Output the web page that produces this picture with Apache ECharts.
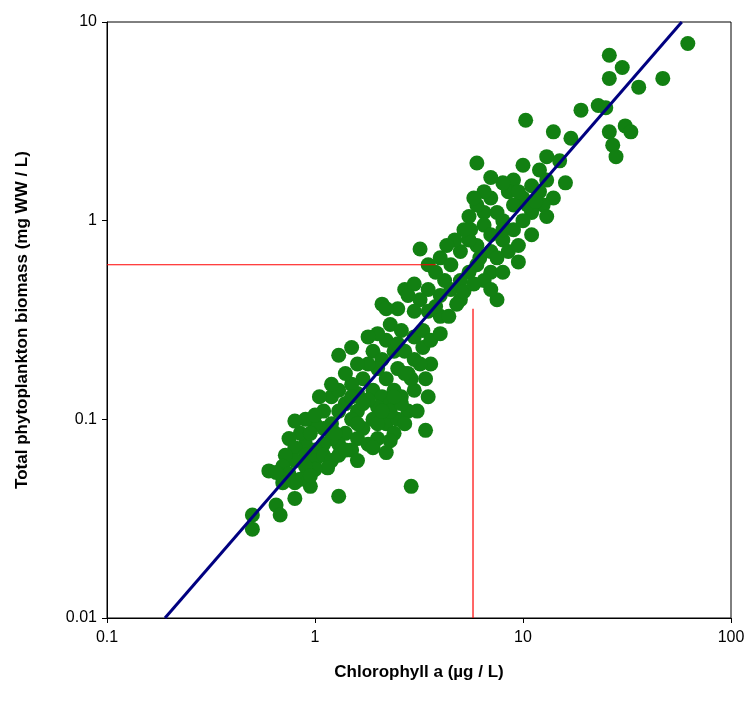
<!DOCTYPE html>
<html>
<head>
<meta charset="UTF-8">
<script src="https://cdn.jsdelivr.net/npm/echarts@6/dist/echarts.min.js"></script>
<style>html,body{margin:0;padding:0;background:#fff}</style>
</head>
<body>
<div id="main" style="width:751px;height:702px;"></div>
<script>
var xTicks = [0.1, 1, 10, 100];
var yTicks = [0.01, 0.1, 1, 10];
var fitLine = [[0.19, 0.01], [58, 10]];
var refH = [[0.1, 0.6], [3.8, 0.6]];
var refV = [[5.75, 0.01], [5.75, 0.36]];
var points = [
 [62,7.8],[26,6.8],[30,5.9],[26,5.2],[47,5.2],[36,4.7],[19,3.6],[23,3.8],[25,3.7],[10.3,3.2],
 [14,2.8],[17,2.6],[26,2.8],[31,3.0],[33,2.8],[27,2.4],[28,2.1],[15,2.0],[13,2.1],[16,1.55],
 [12,1.8],[10,1.9],[6,1.95],[11,0.85],[9.5,0.62],[3.2,0.72],[7.5,0.4],[2.9,0.046],[1.3,0.041],
 [0.5,0.033],[0.5,0.028],[0.6,0.055],[0.65,0.037],[0.68,0.033],[0.8,0.04],[0.95,0.046],
 [1.3,0.21],[1.5,0.23],[2.1,0.38],[2.7,0.45],[3.5,0.6],[4,0.65],[5.6,0.9],
 [13,1.6],[12,1.4],[14,1.3],[11,1.5],[12.5,1.2],[11,1.1],[13,1.05],[10,1.3],[9,1.6],[8.5,1.4],
 [9,1.2],[8,1.0],[7,1.3],[7.5,1.1],[6.5,1.1],[6,1.2],[5.5,1.05],[6.5,0.95],[7,0.85],[8,0.8],
 [9,0.9],[10,1.0],[8.5,0.7],[7,0.7],[6,0.75],[5.5,0.8],[5,0.7],[6,0.6],[7,0.55],[6.5,0.5],
 [8,0.55],[7,0.45],[5.5,0.55],[5,0.5],[4.5,0.45],[5,0.4],[4.5,0.6],[4.2,0.5],[4,0.42],[3.8,0.55],
 [3.5,0.45],[3.2,0.4],[3,0.35],[3.5,0.35],[4,0.33],[3,0.48],[2.8,0.42],[2.5,0.36],[2.3,0.3],
 [2.6,0.28],[3,0.26],[3.3,0.28],[2.2,0.25],[2,0.27],[1.9,0.22],[2.1,0.2],[2.4,0.22],[2.7,0.22],
 [3,0.2],[3.3,0.23],[3.6,0.19],[2.8,0.17],[2.5,0.18],[2.2,0.16],[2,0.18],[1.8,0.19],[1.7,0.16],
 [1.9,0.14],[2.1,0.13],[2.4,0.14],[2.6,0.13],[3,0.14],[3.4,0.16],[2.8,0.11],[2.3,0.12],[2,0.115],
 [1.8,0.125],[1.6,0.135],[1.5,0.15],[1.4,0.12],[1.6,0.11],[1.9,0.1],[2.2,0.095],[2.5,0.1],[2.7,0.095],
 [2.4,0.085],[2,0.08],[1.7,0.09],[1.5,0.1],[1.3,0.11],[1.2,0.095],[1.4,0.085],[1.6,0.08],[1.8,0.075],
 [1.5,0.07],[1.3,0.075],[1.2,0.08],[1.1,0.09],[1.0,0.095],[0.9,0.1],[1.1,0.075],[1.0,0.07],
 [0.9,0.075],[0.85,0.085],[0.8,0.098],[0.75,0.08],[0.8,0.072],[0.9,0.066],[1.0,0.062],[1.1,0.066],
 [1.2,0.062],[1.3,0.066],[1.4,0.07],[1.15,0.057],[1.0,0.056],[0.9,0.058],[0.8,0.062],[0.72,0.066],
 [0.7,0.058],[0.75,0.053],[0.85,0.05],[0.95,0.052],[0.8,0.048],[0.7,0.048],[0.65,0.054],[1.2,0.13],
 [1.3,0.14],[1.5,0.13],[1.7,0.12],[1.1,0.11],[1.0,0.105],[1.25,0.085],[1.6,0.095],[2,0.095],[2.3,0.11],
 [2.6,0.12],[2.9,0.16],[3.2,0.19],[3.6,0.25],[4,0.27],[4.4,0.33],[3.8,0.37],[4.8,0.38],[5.2,0.44],
 [5.8,0.48],[6.2,0.65],[7.5,0.65],[8,0.9],[9.5,0.75],[10.5,1.2],[9.5,1.4],[11.5,1.25],[8,1.55],
 [7,1.65],[6.5,1.4],[5.8,1.3],[5.2,0.9],[4.7,0.8],[4.3,0.75],[2.2,0.36],[2.5,0.24],[1.8,0.26],
 [1.6,0.19],[1.4,0.17],[1.2,0.15],[2.1,0.11],[2.4,0.13],[2.7,0.17],[3.1,0.11],[2.3,0.078],[1.9,0.072],
 [3.5,0.13],[1.05,0.13],[0.95,0.085],[1.6,0.062],[2.2,0.068],[3.4,0.088]
];

var chart = echarts.init(document.getElementById('main'));
var lbl = {color:'#000', fontSize:16, fontFamily:'Liberation Sans, Arial'};
chart.setOption({
  animation:false,
  grid:{left:107, right:20, top:22, bottom:84, show:true, borderColor:'#000', borderWidth:1},
  xAxis:{type:'log', logBase:10, min:0.1, max:100,
    name:'Chlorophyll a (µg / L)', nameLocation:'middle', nameGap:46,
    nameTextStyle:{fontSize:17, fontWeight:'bold', fontFamily:'Liberation Sans, Arial', color:'#000'},
    axisLine:{lineStyle:{color:'#000'}}, axisTick:{inside:false, length:5, lineStyle:{color:'#000'}},
    axisLabel:Object.assign({margin:12, formatter:function(v){return String(+v.toPrecision(3));}}, lbl),
    splitLine:{show:false}, minorTick:{show:false}},
  yAxis:{type:'log', logBase:10, min:0.01, max:10,
    name:'Total phytoplankton biomass (mg WW / L)', nameLocation:'middle', nameGap:76,
    nameTextStyle:{fontSize:17, fontWeight:'bold', fontFamily:'Liberation Sans, Arial', color:'#000'},
    axisLine:{lineStyle:{color:'#000'}}, axisTick:{inside:false, length:5, lineStyle:{color:'#000'}},
    axisLabel:Object.assign({margin:10, formatter:function(v){return String(+v.toPrecision(3));}}, lbl),
    splitLine:{show:false}},
  series:[
    {type:'scatter', data:points, symbolSize:15, itemStyle:{color:'#128012', opacity:1}, z:2},
    {type:'line', data:fitLine, symbol:'none', lineStyle:{color:'#000080', width:3}, z:3},
    {type:'line', data:refH, symbol:'none', lineStyle:{color:'#ff0000', width:1.2}, z:4},
    {type:'line', data:refV, symbol:'none', lineStyle:{color:'#ff0000', width:1.2}, z:4}
  ]
});
</script>
</body>
</html>
